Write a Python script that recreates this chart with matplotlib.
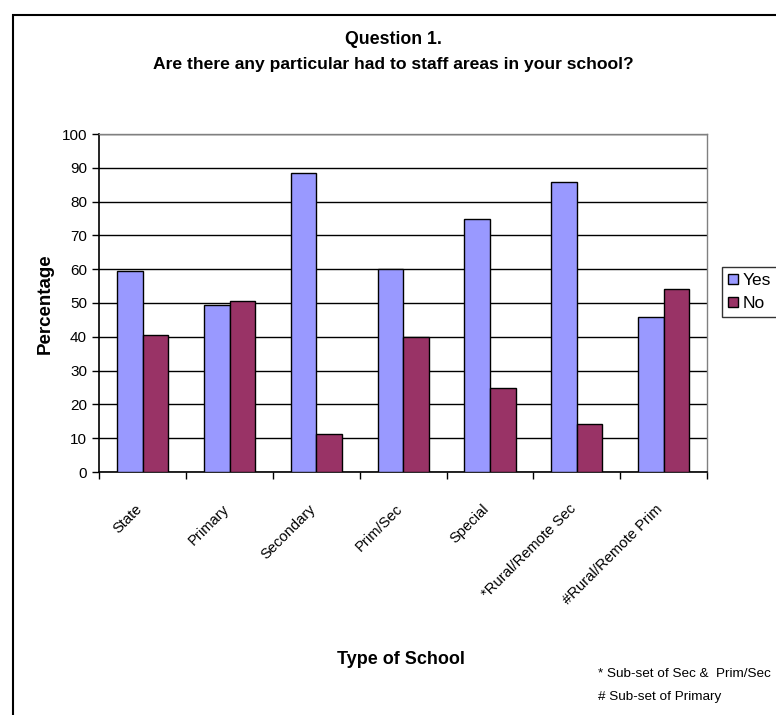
import matplotlib
matplotlib.use("Agg")
import matplotlib.pyplot as plt
import matplotlib.transforms as mtransforms
from matplotlib.patches import Rectangle, Patch
from matplotlib import font_manager
import numpy as np

# ---- data ----
categories = ["State", "Primary", "Secondary", "Prim/Sec", "Special",
              "*Rural/Remote Sec", "#Rural/Remote Prim"]
yes_pct = [59.5, 49.3, 88.5, 60.0, 75.0, 85.7, 46.0]
no_pct = [40.5, 50.7, 11.3, 40.0, 25.0, 14.3, 54.0]
series_names = ["Yes", "No"]
yticks = list(range(0, 101, 10))

# ---- fonts: prefer a narrow Arial-metric face ----
names = {f.name for f in font_manager.fontManager.ttflist}
if "Liberation Sans Narrow" in names:
    FAMILY, W = "Liberation Sans Narrow", 0.82
else:
    FAMILY, W = "Liberation Sans", 1.0
plt.rcParams["font.family"] = [FAMILY, "DejaVu Sans"]


def fs(size):
    return size / W


YES_COLOR = "#9999FF"
NO_COLOR = "#993366"

FW, FH = 776, 715
fig = plt.figure(figsize=(FW / 100, FH / 100), dpi=100)
fig.patch.set_facecolor("white")

left, right, top, bottom = 99.5, 707, 134, 472
ax = fig.add_axes([left / FW, 1 - bottom / FH, (right - left) / FW, (bottom - top) / FH])

n = len(categories)
x = np.arange(n)
bw = 0.295
ax.bar(x - bw / 2, yes_pct, bw, color=YES_COLOR, edgecolor="black", linewidth=1.0, zorder=3)
ax.bar(x + bw / 2, no_pct, bw, color=NO_COLOR, edgecolor="black", linewidth=1.0, zorder=3)

ax.set_xlim(-0.5, n - 0.5)
ax.set_ylim(0, 100)
ax.set_yticks(yticks)
ax.set_yticklabels([str(v) for v in yticks], fontsize=fs(11))
ax.yaxis.grid(True, color="black", linewidth=1.0, zorder=0)
ax.set_axisbelow(True)

# category boundaries as major ticks, labels on minor ticks at centres
ax.set_xticks(np.arange(-0.5, n, 1.0))
ax.set_xticklabels([])
ax.set_xticks(x, minor=True)
ax.set_xticklabels(categories, minor=True, rotation=45, ha="right", va="center",
                   rotation_mode="anchor", fontsize=fs(10.6))
ax.tick_params(axis="x", which="major", direction="out", length=5, width=1, color="black")
ax.tick_params(axis="x", which="minor", length=0, pad=25)
ax.tick_params(axis="y", direction="out", length=5, width=1, pad=4)
offset = mtransforms.ScaledTranslation(-3 / 100, 0, fig.dpi_scale_trans)
for lbl in ax.get_xticklabels(minor=True):
    lbl.set_transform(lbl.get_transform() + offset)

for side in ("left", "bottom"):
    ax.spines[side].set_color("black")
    ax.spines[side].set_linewidth(1.2)
for side in ("top", "right"):
    ax.spines[side].set_color("#808080")
    ax.spines[side].set_linewidth(1.0)

# titles and labels
fig.text(393 / FW, 1 - 40 / FH, "Question 1.", ha="center", va="center",
         fontsize=fs(12.8), fontweight="bold")
fig.text(393 / FW, 1 - 65 / FH, "Are there any particular had to staff areas in your school?",
         ha="center", va="center", fontsize=fs(12.6), fontweight="bold")
fig.text(45 / FW, 1 - 304 / FH, "Percentage", rotation=90, ha="center", va="center",
         fontsize=fs(13.5), fontweight="bold")
fig.text(401 / FW, 1 - 660 / FH, "Type of School", ha="center", va="center",
         fontsize=fs(13.0), fontweight="bold")
fig.text(598 / FW, 1 - 674 / FH, "* Sub-set of Sec &  Prim/Sec", ha="left", va="center",
         fontsize=fs(9.7))
fig.text(598 / FW, 1 - 697 / FH, "# Sub-set of Primary", ha="left", va="center",
         fontsize=fs(9.7))

# legend
handles = [Patch(facecolor=YES_COLOR, edgecolor="black", linewidth=1.0),
           Patch(facecolor=NO_COLOR, edgecolor="black", linewidth=1.0)]
leg = fig.legend(handles, series_names, loc="upper left",
                 bbox_to_anchor=(722 / FW, 1 - 267 / FH), bbox_transform=fig.transFigure,
                 frameon=True, fancybox=False, fontsize=fs(12.5), handlelength=0.55,
                 handleheight=0.55, handletextpad=0.3, borderpad=0.35, labelspacing=0.45,
                 borderaxespad=0)
leg.get_frame().set_edgecolor("black")
leg.get_frame().set_linewidth(1.0)

# outer chart frame
fig.patches.append(Rectangle((13 / FW, -0.1), 1.2, (1 - 15 / FH) + 0.1,
                             transform=fig.transFigure, fill=False,
                             edgecolor="black", linewidth=1.5))

fig.savefig("out.png", dpi=100)
